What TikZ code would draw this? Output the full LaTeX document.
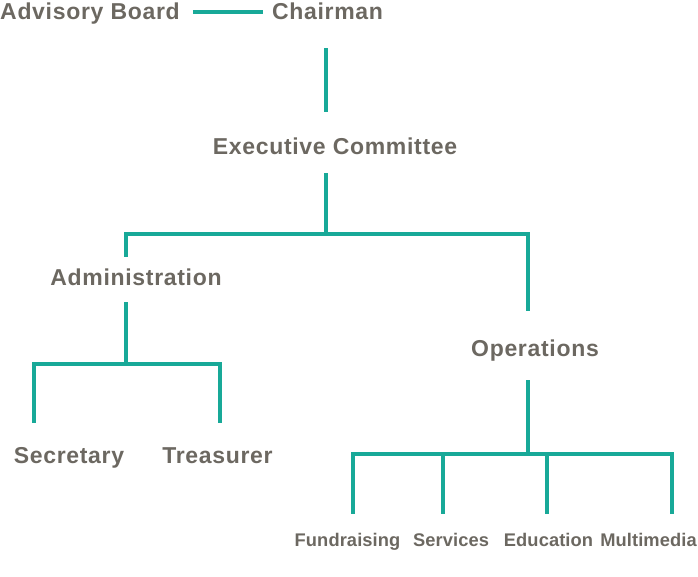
\documentclass[tikz,border=0pt]{standalone}
\usepackage{tikz}
\usepackage{fontspec}
\setmainfont{Liberation Sans}
\newfontfamily\orgbig{Liberation Sans}[LetterSpace=3]
\newfontfamily\orgsmall{Liberation Sans}[LetterSpace=0.5]
\definecolor{orgtext}{RGB}{108,104,97}
\definecolor{orgline}{RGB}{24,169,152}

\begin{document}
\begin{tikzpicture}[x=1pt,y=-1pt,
    link/.style={draw=orgline,line width=4pt}]

        \useasboundingbox (0,0) rectangle (698,577);

        \begin{scope}[every node/.style={anchor=base,inner sep=0pt,text=orgtext,
            text height=16pt,text depth=0pt,font=\orgbig\bfseries\fontsize{23}{27}\selectfont}]
          \node (adv)   at (90,20)    {Advisory Board};
          \node (chair) at (327.5,20) {Chairman};
          \node (exec)  at (335,155)  {Executive Committee};
          \node (admin) at (136,285)  {Administration};
          \node (ops)   at (535,356)  {Operations};
          \node (sec)   at (69,463)   {Secretary};
          \node (treas) at (217.5,463) {Treasurer};
        \end{scope}

        \begin{scope}[every node/.style={anchor=base,inner sep=0pt,text=orgtext,
            text height=13pt,text depth=0pt,font=\orgsmall\bfseries\fontsize{18.3}{22}\selectfont}]
          \node (fund)  at (347.5,546) {Fundraising};
          \node (serv)  at (451,546)   {Services};
          \node (edu)   at (548.5,546) {Education};
          \node (multi) at (648.5,546) {Multimedia};
        \end{scope}

        \coordinate (bar1)   at (326,234);
        \coordinate (bar2)   at (125.5,364);
        \coordinate (bar3)   at (528,454);
        \coordinate (psec)   at (34,364);
        \coordinate (ptreas) at (220,364);
        \coordinate (pfund)  at (353,454);
        \coordinate (pserv)  at (443,454);
        \coordinate (pedu)   at (547,454);
        \coordinate (pmulti) at (672,454);

        \draw[link,shorten <=13pt,shorten >=9pt] (adv.east) -- (chair.west);
        \draw[link,shorten <=28pt,shorten >=27pt] (chair.south -| bar1) -- (exec.north -| bar1);
        \draw[link,shorten <=18pt] (exec.south -| bar1) -- (bar1);
        \draw[link,shorten <=12pt,shorten >=29pt] (admin.north -| bar2) |- (bar1) -| (ops.north -| bar3);

        \draw[link,shorten <=17pt] (admin.south -| bar2) -- (bar2);
        \draw[link,shorten <=24pt,shorten >=24pt] (sec.north -| psec) |- (bar2) -| (treas.north -| ptreas);

        \draw[link,shorten <=24pt] (ops.south -| bar3) -- (bar3);
        \draw[link,shorten <=19pt,shorten >=19pt] (fund.north -| pfund) |- (bar3) -| (multi.north -| pmulti);
        \draw[link,shorten <=19pt] (serv.north -| pserv) -- (pserv);
        \draw[link,shorten <=19pt] (edu.north -| pedu) -- (pedu);

      \end{tikzpicture}
\end{document}
